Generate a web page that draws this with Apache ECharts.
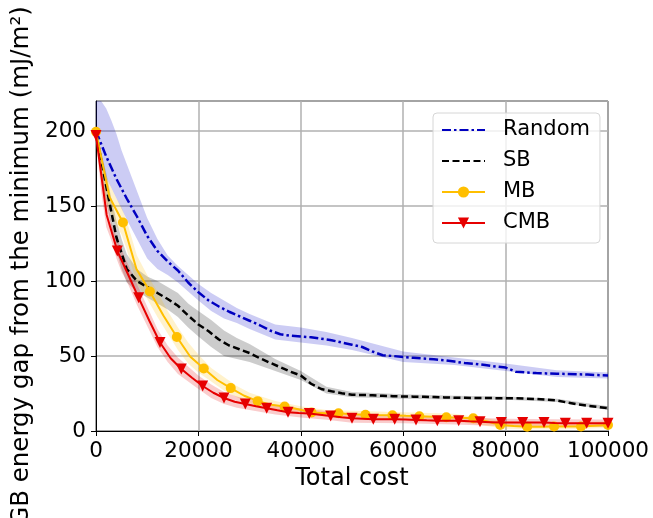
<!DOCTYPE html>
<html>
<head>
<meta charset="utf-8">
<script src="https://cdn.jsdelivr.net/npm/echarts@6/dist/echarts.min.js"></script>
<style>
  html, body { margin: 0; padding: 0; background: #fff; }
  #chart-panel { width: 653px; height: 518px; }
</style>
</head>
<body>
<div id="chart-panel"></div>
<script>
// total cost grid for Random / SB
var cost = [0, 2000, 4000, 6000, 8000, 10000, 12000, 14000, 16000, 18000, 20000,
  22000, 24000, 26000, 28000, 30000, 32000, 34000, 36000, 38000, 40000,
  42000, 44000, 46000, 48000, 50000, 52000, 54000, 56000, 58000, 60000,
  62000, 64000, 66000, 68000, 70000, 72000, 74000, 76000, 78000, 80000,
  82000, 84000, 86000, 88000, 90000, 92000, 94000, 96000, 98000, 100000];

var randomGap = [200, 183, 168, 155, 143, 130, 120, 113, 107, 99, 92.5,
  87, 83, 79.5, 76.5, 73.5, 70.5, 67, 64.5, 63.5, 63,
  62.5, 61.5, 60.5, 59, 57.5, 56, 53, 50.5, 50, 49.3,
  48.8, 48.3, 47.8, 47.2, 46.3, 45.3, 44.8, 44, 43, 42.3,
  39.5, 39, 38.6, 38.4, 38.2, 38, 37.8, 37.6, 37.3, 37];

var sbGap = [199, 163, 129, 108, 100, 96, 92, 88, 83.5, 77, 71,
  66.5, 61, 57, 54.5, 52, 48.5, 45.5, 42.5, 39.5, 37,
  31.5, 28, 26.5, 25.2, 24.2, 24, 23.8, 23.5, 23.2, 23,
  22.9, 22.8, 22.6, 22.4, 22.2, 22.1, 22, 22, 21.9, 21.9,
  21.8, 21.6, 21.3, 20.9, 20.4, 19, 17.8, 16.8, 16, 15.2];

// MB samples (marker on every second one)
var mbCost = [0, 2632, 5263, 7895, 10526, 13158, 15789, 18421, 21053, 23684,
  26316, 28947, 31579, 34211, 36842, 39474, 42105, 44737, 47368, 50000,
  52632, 55263, 57895, 60526, 63158, 65789, 68421, 71053, 73684, 76316,
  78947, 81579, 84211, 86842, 89474, 92105, 94737, 97368, 100000];
var mbGap = [199.5, 156, 139, 108, 93, 77, 62.7, 49.5, 41.7, 34,
  28.6, 23.5, 19.9, 17.5, 16.3, 14.5, 12.3, 11.8, 11.8, 11.2,
  10.8, 10.6, 10.5, 10.1, 9.8, 9.5, 9.2, 8.9, 8.5, 6.5,
  4, 3.3, 2.8, 2.9, 3, 3, 3, 3.5, 4];

// CMB samples (marker on every second one)
var cmbCost = [0, 2083, 4167, 6250, 8333, 10417, 12500, 14583, 16667, 18750,
  20833, 22917, 25000, 27083, 29167, 31250, 33333, 35417, 37500, 39583,
  41667, 43750, 45833, 47917, 50000, 52083, 54167, 56250, 58333, 60417,
  62500, 64583, 66667, 68750, 70833, 72917, 75000, 77083, 79167, 81250,
  83333, 85417, 87500, 89583, 91667, 93750, 95833, 97917, 100000];
var cmbGap = [197, 144, 120, 104.5, 88.8, 73.5, 59, 48.5, 41.3, 35.5,
  30, 25.5, 22, 19.5, 18, 16.5, 15.2, 13.8, 12.5, 12,
  11.6, 10.8, 10, 9.2, 8.5, 8.2, 7.8, 7.8, 7.8, 7.6,
  7.4, 7.1, 6.9, 6.9, 6.9, 6.5, 6.2, 5.9, 5.6, 5.6,
  5.6, 5.6, 5.6, 5.3, 5.1, 5.1, 5.1, 5.1, 5.1];

// shaded spread bands
var bandCost = [0, 1000, 2000, 3000, 4000, 5000, 6000, 8000, 10000, 12000, 14000,
  16000, 18000, 20000, 22500, 25000, 27500, 30000, 35000, 40000, 45000,
  50000, 60000, 70000, 80000, 90000, 100000];
var randomHi = [220, 220, 215, 207, 198, 187, 178, 160, 142, 128, 117, 110, 104, 98, 92, 87, 82, 78, 71, 69, 66, 62, 53, 49, 45, 40.5, 39];
var randomLo = [197, 180, 169, 162, 155, 148, 141, 128, 115, 108, 104, 99, 93, 87, 80, 75, 72, 68, 61, 59, 57, 54, 46, 44, 40, 36, 35];
var sbHi = [201, 186, 172, 155, 140, 128, 118, 108, 103, 100, 96, 92, 85, 80, 74, 67, 62, 58, 48, 40, 29.5, 26, 24.5, 23.5, 23, 21.5, 16.5];
var sbLo = [196, 170, 154, 136, 120, 108, 99, 93, 89, 85, 81, 76, 69, 63, 56, 50, 48, 46, 40, 34, 25, 22.5, 21.5, 21, 20.8, 19.3, 14];
var mbHi = [201, 182, 170, 162, 155, 149, 140, 117, 104, 93, 80, 69, 59, 51, 42, 36, 30, 25.5, 20, 16.5, 14, 13.5, 12.5, 11.5, 6.5, 5.5, 6.5];
var mbLo = [197, 166, 152, 144, 137, 131, 121, 98, 88, 76, 65, 54, 45, 39, 33, 27, 22.5, 18.5, 14.5, 11.5, 9.5, 9, 7.5, 6.5, 1.5, 1, 2];
var cmbHi = [200, 176, 156, 139, 129, 121, 113, 98, 83, 68, 57, 49, 43, 37, 31, 26, 23, 21, 17.5, 15, 13.3, 11.5, 10.1, 9.4, 8.1, 7.8, 7.6];
var cmbLo = [194, 160, 136, 127, 115, 106, 100, 84, 70, 56, 46, 38, 33, 28, 22, 18, 15.5, 14, 11, 9, 7.5, 5.5, 5.1, 4.4, 3.1, 2.8, 2.6];

var FONT = 'DejaVu Sans';
var C_RAND = '#0000c0', C_SB = '#000000', C_MB = '#ffbf00', C_CMB = '#e60000';

function pairs(xs, ys) {
    return xs.map(function (x, i) { return [x, ys[i]]; });
}
// markers only on every second point
function markedPairs(xs, ys) {
    return xs.map(function (x, i) {
        if (i % 2 === 0) return [x, ys[i]];
        return { value: [x, ys[i]], symbol: 'none' };
    });
}

function band(hi, lo, fill) {
    return {
        type: 'custom',
        silent: true,
        z: 1,
        data: [[0, 0]],
        renderItem: function (params, api) {
            var pts = [];
            for (var i = 0; i < bandCost.length; i++) pts.push(api.coord([bandCost[i], hi[i]]));
            for (var j = bandCost.length - 1; j >= 0; j--) pts.push(api.coord([bandCost[j], lo[j]]));
            return { type: 'polygon', shape: { points: pts }, style: { fill: fill } };
        }
    };
}

var chart = echarts.init(document.getElementById('chart-panel'));

var opt = {
    animation: false,
    backgroundColor: '#fff',
    grid: {
        left: 96, top: 101, width: 512, height: 330,
        outerBoundsMode: 'none', containLabel: false,
        show: true, borderColor: '#000', borderWidth: 1
    },
    legend: {
        orient: 'vertical',
        left: 433,
        top: 113,
        padding: [5, 10, 8, 8],
        itemGap: 7,
        itemWidth: 43,
        itemHeight: 14,
        backgroundColor: 'rgba(255,255,255,0.8)',
        borderColor: '#d6d6d6',
        borderWidth: 1,
        borderRadius: 4,
        textStyle: { fontFamily: FONT, fontSize: 21, color: '#000', lineHeight: 24, padding: [0, 0, 0, 13] },
        data: ['Random', 'SB', 'MB', 'CMB']
    },
    xAxis: {
        type: 'value',
        min: 0, max: 100000, interval: 20000,
        name: 'Total cost',
        nameLocation: 'middle',
        nameGap: 31,
        nameTextStyle: { fontFamily: FONT, fontSize: 24, color: '#000' },
        axisLine: { lineStyle: { color: '#000', width: 1 } },
        axisTick: { show: true, inside: false, length: 5, lineStyle: { color: '#000' } },
        axisLabel: {
            fontFamily: FONT, fontSize: 21.5, color: '#000', margin: 9,
            formatter: function (v) { return String(v); }
        },
        splitLine: { show: true, lineStyle: { color: '#b0b0b0', width: 1.5 } }
    },
    yAxis: {
        type: 'value',
        min: 0, max: 220, interval: 50,
        name: 'GB energy gap from the minimum (mJ/m\u00b2)',
        nameLocation: 'middle',
        nameRotate: 90,
        nameGap: 59,
        nameTextStyle: { fontFamily: FONT, fontSize: 24.5, color: '#000' },
        axisLine: { show: true, lineStyle: { color: '#000', width: 1 } },
        axisTick: { show: true, inside: false, length: 5, lineStyle: { color: '#000' } },
        axisLabel: { fontFamily: FONT, fontSize: 21.5, color: '#000', margin: 10, showMaxLabel: false },
        splitLine: { show: true, lineStyle: { color: '#b0b0b0', width: 1.5 } }
    },
    series: [
        band(randomHi, randomLo, 'rgba(0,0,200,0.2)'),
        band(sbHi, sbLo, 'rgba(0,0,0,0.2)'),
        band(mbHi, mbLo, 'rgba(255,191,0,0.2)'),
        band(cmbHi, cmbLo, 'rgba(230,0,0,0.2)'),
        {
            name: 'Random', type: 'line', z: 3,
            data: pairs(cost, randomGap),
            showSymbol: false, symbol: 'none',
            itemStyle: { color: 'rgba(0,0,0,0)' },
            lineStyle: { color: C_RAND, width: 2.5, type: [9, 3, 2.5, 3] }
        },
        {
            name: 'SB', type: 'line', z: 3,
            data: pairs(cost, sbGap),
            showSymbol: false, symbol: 'none',
            itemStyle: { color: 'rgba(0,0,0,0)' },
            lineStyle: { color: C_SB, width: 2.5, type: [7, 3.5] }
        },
        {
            name: 'MB', type: 'line', z: 4,
            data: markedPairs(mbCost, mbGap),
            symbol: 'circle', symbolSize: 10, showAllSymbol: true,
            itemStyle: { color: C_MB },
            lineStyle: { color: C_MB, width: 2 }
        },
        {
            name: 'CMB', type: 'line', z: 5,
            data: markedPairs(cmbCost, cmbGap),
            symbol: 'path://M0,0 L10,0 L5,10 Z', symbolSize: 11, showAllSymbol: true,
            itemStyle: { color: C_CMB },
            lineStyle: { color: C_CMB, width: 2 }
        }
    ]
};

chart.setOption(opt);
</script>
</body>
</html>
